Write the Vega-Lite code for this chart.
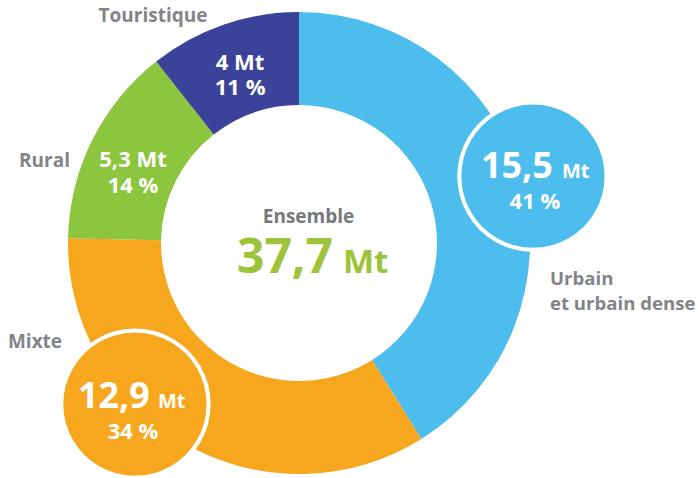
{
  "$schema": "https://vega.github.io/schema/vega-lite/v6.json",
  "width": 598,
  "height": 470,
  "autosize": "none",
  "padding": {"left": 0, "top": 8, "right": 100, "bottom": 0},
  "background": "white",
  "config": {"view": {"stroke": null}, "text": {"font": "Open Sans", "fontWeight": "bold"}},
  "datasets": {
    "segments": [
      {"name": "Urbain et urbain dense", "lab": "Urbain\net urbain dense", "value": 15.5, "num": "15,5", "seg": "15,5 Mt\n41 %", "pct": "41 %"},
      {"name": "Mixte", "lab": "Mixte", "value": 12.9, "num": "12,9", "seg": "12,9 Mt\n34 %", "pct": "34 %"},
      {"name": "Rural", "lab": "Rural", "value": 5.3, "num": "5,3", "seg": "5,3 Mt\n14 %", "pct": "14 %"},
      {"name": "Touristique", "lab": "Touristique", "value": 4, "num": "4", "seg": "4 Mt\n11 %", "pct": "11 %"}
    ],
    "total": [{"title": "Ensemble", "total": "37,7", "unit": "Mt"}]
  },
  "layer": [
    {
      "data": {"name": "segments"},
      "encoding": {
        "theta": {"field": "value", "type": "quantitative", "stack": true},
        "order": {"field": "value", "sort": "descending"}
      },
      "layer": [
        {
          "mark": {"type": "arc", "outerRadius": 231, "innerRadius": 138},
          "encoding": {
            "color": {"field": "name", "type": "nominal", "legend": null,
              "scale": {"domain": ["Urbain et urbain dense", "Mixte", "Rural", "Touristique"],
                        "range": ["#4cbdec", "#f6a71e", "#8cc63f", "#3a4399"]}}
          }
        },
        {
          "mark": {"type": "text", "radius": 244, "font": "DejaVu Sans", "fontWeight": "normal", "fontSize": 193, "align": "center", "baseline": "middle", "fill": "#4cbdec", "stroke": "white", "strokeWidth": 4, "dx": -0.6, "dy": -7.8},
          "encoding": {"text": {"condition": {"test": "datum.name === 'Urbain et urbain dense'", "value": "●"}, "value": ""}}
        },
        {
          "mark": {"type": "text", "radius": 244, "font": "DejaVu Sans", "fontWeight": "normal", "fontSize": 193, "align": "center", "baseline": "middle", "fill": "#f6a71e", "stroke": "white", "strokeWidth": 4, "dx": -43.5, "dy": -59.2},
          "encoding": {"text": {"condition": {"test": "datum.name === 'Mixte'", "value": "●"}, "value": ""}}
        },
        {
          "mark": {"type": "text", "radius": 244, "fontSize": 36, "align": "right", "baseline": "alphabetic", "fill": "white", "dx": 19.4, "dy": 2.2},
          "encoding": {"text": {"condition": {"test": "datum.name === 'Urbain et urbain dense'", "field": "num"}, "value": ""}}
        },
        {
          "mark": {"type": "text", "radius": 244, "fontSize": 20, "align": "left", "baseline": "alphabetic", "fill": "white", "dx": 28.4, "dy": 2.2, "text": "Mt"},
          "encoding": {"opacity": {"condition": {"test": "datum.name === 'Urbain et urbain dense'", "value": 1}, "value": 0}}
        },
        {
          "mark": {"type": "text", "radius": 244, "fontSize": 22, "align": "center", "baseline": "alphabetic", "fill": "white", "dx": 1.4, "dy": 33.2},
          "encoding": {"text": {"condition": {"test": "datum.name === 'Urbain et urbain dense'", "field": "pct"}, "value": ""}}
        },
        {
          "mark": {"type": "text", "radius": 244, "fontSize": 36, "align": "right", "baseline": "alphabetic", "fill": "white", "dx": -28.5, "dy": -47.2},
          "encoding": {"text": {"condition": {"test": "datum.name === 'Mixte'", "field": "num"}, "value": ""}}
        },
        {
          "mark": {"type": "text", "radius": 244, "fontSize": 20, "align": "left", "baseline": "alphabetic", "fill": "white", "dx": -20.5, "dy": -47.2, "text": "Mt"},
          "encoding": {"opacity": {"condition": {"test": "datum.name === 'Mixte'", "value": 1}, "value": 0}}
        },
        {
          "mark": {"type": "text", "radius": 244, "fontSize": 22, "align": "center", "baseline": "alphabetic", "fill": "white", "dx": -45.5, "dy": -16.2},
          "encoding": {"text": {"condition": {"test": "datum.name === 'Mixte'", "field": "pct"}, "value": ""}}
        },
        {
          "mark": {"type": "text", "radius": 180, "fontSize": 22, "lineHeight": 26, "lineBreak": "\n", "align": "center", "baseline": "alphabetic", "fill": "white", "dx": -4.9, "dy": 4.3},
          "encoding": {"text": {"condition": {"test": "datum.name === 'Rural'", "field": "seg"}, "value": ""}}
        },
        {
          "mark": {"type": "text", "radius": 180, "fontSize": 22, "lineHeight": 25, "lineBreak": "\n", "align": "center", "baseline": "alphabetic", "fill": "white", "dx": 0, "dy": -2.9},
          "encoding": {"text": {"condition": {"test": "datum.name === 'Touristique'", "field": "seg"}, "value": ""}}
        },
        {
          "mark": {"type": "text", "radius": 231, "fontSize": 19, "align": "center", "baseline": "alphabetic", "fill": "#838487", "dx": -70.4, "dy": -2.7},
          "encoding": {"text": {"condition": {"test": "datum.name === 'Touristique'", "field": "lab"}, "value": ""}}
        },
        {
          "mark": {"type": "text", "radius": 231, "fontSize": 19, "align": "center", "baseline": "alphabetic", "fill": "#838487", "dx": -47.8, "dy": 27.1},
          "encoding": {"text": {"condition": {"test": "datum.name === 'Rural'", "field": "lab"}, "value": ""}}
        },
        {
          "mark": {"type": "text", "radius": 231, "fontSize": 19, "align": "center", "baseline": "alphabetic", "fill": "#838487", "dx": -149.9, "dy": -95.9},
          "encoding": {"text": {"condition": {"test": "datum.name === 'Mixte'", "field": "lab"}, "value": ""}}
        },
        {
          "mark": {"type": "text", "radius": 231, "fontSize": 18.6, "lineHeight": 25, "lineBreak": "\n", "align": "left", "baseline": "alphabetic", "fill": "#838487", "dx": 28.9, "dy": 105.7},
          "encoding": {"text": {"condition": {"test": "datum.name === 'Urbain et urbain dense'", "field": "lab"}, "value": ""}}
        }
      ]
    },
    {
      "data": {"name": "total"},
      "layer": [
        {
          "mark": {"type": "text", "fontSize": 19, "align": "center", "baseline": "alphabetic", "fill": "#77787b", "dx": 9.5, "dy": -20},
          "encoding": {"text": {"field": "title", "type": "nominal"}}
        },
        {
          "mark": {"type": "text", "fontSize": 48, "align": "right", "baseline": "alphabetic", "fill": "#9dc33b", "dx": 34, "dy": 30},
          "encoding": {"text": {"field": "total", "type": "nominal"}}
        },
        {
          "mark": {"type": "text", "fontSize": 33, "align": "left", "baseline": "alphabetic", "fill": "#9dc33b", "dx": 44, "dy": 30},
          "encoding": {"text": {"field": "unit", "type": "nominal"}}
        }
      ]
    }
  ]
}
